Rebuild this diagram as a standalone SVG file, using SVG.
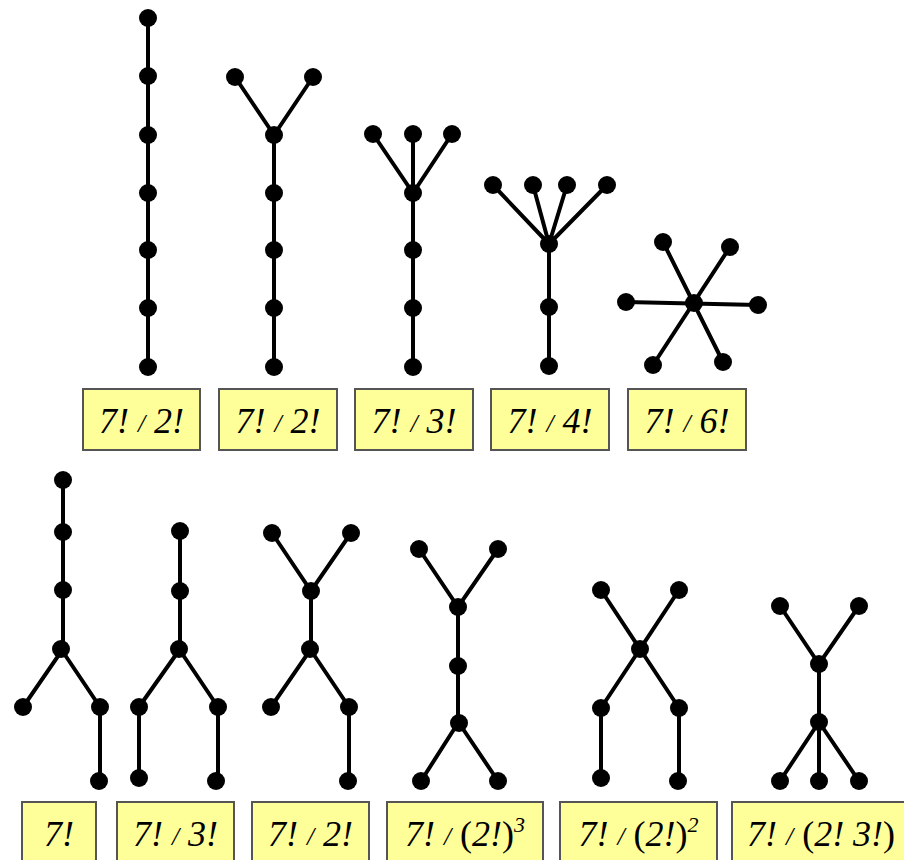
<svg xmlns="http://www.w3.org/2000/svg" width="904" height="860" viewBox="0 0 904 860">
<style>
.e{stroke:#000;stroke-width:4;stroke-linecap:round;fill:none}
.v{fill:#000}
.b{fill:#FFFF99;stroke:#555;stroke-width:2}
.t{font-family:'Liberation Serif','DejaVu Serif',serif;font-style:italic;font-weight:normal;font-size:36px;fill:#000;text-anchor:middle}
.s{font-size:26px}
.u{font-style:normal}
.p{font-size:22px}
</style>
<rect width="904" height="860" fill="#fff"/>
<g id="connectors">
<path class="e" d="M148,18V367"/>
<path class="e" d="M235,77L274,135L313,77M274,135V367"/>
<path class="e" d="M373,134L413,193L452,134M413,134V367"/>
<path class="e" d="M493,185L549,244L533,185M567,185L549,244L607,185M549,244V366"/>
<path class="e" d="M663,242L723,362M730,247L653,365M626,302L758,305"/>
<path class="e" d="M63,480V649L23,707M61,649L100,707V781"/>
<path class="e" d="M180,531V649L139,707V778M179,649L218,707V781"/>
<path class="e" d="M272,533L311,591L351,533M311,591V649L271,707M310,649L349,707V781"/>
<path class="e" d="M419,549L458,607L498,549M458,607V723L421,781M459,723L498,781"/>
<path class="e" d="M601,590L640,649L679,590M640,649L601,708V778M640,649L679,708V781"/>
<path class="e" d="M780,606L819,664L859,606M819,664V781M819,722L780,781M819,722L859,781"/>
</g>
<g id="tree1" class="v">
<circle cx="148" cy="18" r="9"/><circle cx="148" cy="76" r="9"/><circle cx="148" cy="135" r="9"/><circle cx="148" cy="193" r="9"/><circle cx="148" cy="250" r="9"/><circle cx="148" cy="308" r="9"/><circle cx="148" cy="367" r="9"/>
</g>
<g id="tree2" class="v">
<circle cx="235" cy="77" r="9"/><circle cx="313" cy="77" r="9"/><circle cx="274" cy="135" r="9"/><circle cx="274" cy="193" r="9"/><circle cx="274" cy="250" r="9"/><circle cx="274" cy="308" r="9"/><circle cx="274" cy="367" r="9"/>
</g>
<g id="tree3" class="v">
<circle cx="373" cy="134" r="9"/><circle cx="413" cy="134" r="9"/><circle cx="452" cy="134" r="9"/><circle cx="413" cy="193" r="9"/><circle cx="413" cy="250" r="9"/><circle cx="413" cy="308" r="9"/><circle cx="413" cy="367" r="9"/>
</g>
<g id="tree4" class="v">
<circle cx="493" cy="185" r="9"/><circle cx="533" cy="185" r="9"/><circle cx="567" cy="185" r="9"/><circle cx="607" cy="185" r="9"/><circle cx="549" cy="244" r="9"/><circle cx="549" cy="307" r="9"/><circle cx="549" cy="366" r="9"/>
</g>
<g id="tree5" class="v">
<circle cx="694" cy="303" r="9"/><circle cx="663" cy="242" r="9"/><circle cx="730" cy="247" r="9"/><circle cx="626" cy="302" r="9"/><circle cx="758" cy="305" r="9"/><circle cx="653" cy="365" r="9"/><circle cx="723" cy="362" r="9"/>
</g>
<g id="treeA" class="v">
<circle cx="63" cy="480" r="9"/><circle cx="63" cy="532" r="9"/><circle cx="63" cy="590" r="9"/><circle cx="61" cy="649" r="9"/><circle cx="23" cy="707" r="9"/><circle cx="100" cy="707" r="9"/><circle cx="99" cy="781" r="9"/>
</g>
<g id="treeB" class="v">
<circle cx="180" cy="531" r="9"/><circle cx="180" cy="591" r="9"/><circle cx="179" cy="649" r="9"/><circle cx="139" cy="707" r="9"/><circle cx="139" cy="778" r="9"/><circle cx="218" cy="707" r="9"/><circle cx="216" cy="781" r="9"/>
</g>
<g id="treeC" class="v">
<circle cx="272" cy="533" r="9"/><circle cx="351" cy="533" r="9"/><circle cx="311" cy="591" r="9"/><circle cx="310" cy="649" r="9"/><circle cx="271" cy="707" r="9"/><circle cx="349" cy="707" r="9"/><circle cx="348" cy="781" r="9"/>
</g>
<g id="treeD" class="v">
<circle cx="419" cy="549" r="9"/><circle cx="498" cy="549" r="9"/><circle cx="458" cy="607" r="9"/><circle cx="458" cy="666" r="9"/><circle cx="459" cy="723" r="9"/><circle cx="421" cy="781" r="9"/><circle cx="498" cy="781" r="9"/>
</g>
<g id="treeE" class="v">
<circle cx="601" cy="590" r="9"/><circle cx="679" cy="590" r="9"/><circle cx="640" cy="649" r="9"/><circle cx="601" cy="708" r="9"/><circle cx="679" cy="708" r="9"/><circle cx="601" cy="778" r="9"/><circle cx="678" cy="781" r="9"/>
</g>
<g id="treeF" class="v">
<circle cx="780" cy="606" r="9"/><circle cx="859" cy="606" r="9"/><circle cx="819" cy="664" r="9"/><circle cx="819" cy="722" r="9"/><circle cx="780" cy="781" r="9"/><circle cx="819" cy="781" r="9"/><circle cx="859" cy="781" r="9"/>
</g>
<g id="label1"><rect class="b" x="83" y="389" width="117" height="61"/><text class="t" x="141.5" y="433">7! <tspan class="s" dy="-1">/</tspan><tspan dy="1"> 2!</tspan></text></g>
<g id="label2"><rect class="b" x="219" y="389" width="118" height="61"/><text class="t" x="278" y="433">7! <tspan class="s" dy="-1">/</tspan><tspan dy="1"> 2!</tspan></text></g>
<g id="label3"><rect class="b" x="355" y="389" width="118" height="61"/><text class="t" x="414" y="433">7! <tspan class="s" dy="-1">/</tspan><tspan dy="1"> 3!</tspan></text></g>
<g id="label4"><rect class="b" x="491" y="389" width="118" height="61"/><text class="t" x="550" y="433">7! <tspan class="s" dy="-1">/</tspan><tspan dy="1"> 4!</tspan></text></g>
<g id="label5"><rect class="b" x="628" y="389" width="118" height="61"/><text class="t" x="687" y="433">7! <tspan class="s" dy="-1">/</tspan><tspan dy="1"> 6!</tspan></text></g>
<g id="labelA"><rect class="b" x="22" y="802" width="74" height="62"/><text class="t" x="59" y="846">7!</text></g>
<g id="labelB"><rect class="b" x="117" y="802" width="117" height="62"/><text class="t" x="175.5" y="846">7! <tspan class="s" dy="-1">/</tspan><tspan dy="1"> 3!</tspan></text></g>
<g id="labelC"><rect class="b" x="252" y="802" width="117" height="62"/><text class="t" x="310.5" y="846">7! <tspan class="s" dy="-1">/</tspan><tspan dy="1"> 2!</tspan></text></g>
<g id="labelD"><rect class="b" x="387" y="802" width="156" height="62"/><text class="t" x="465" y="846">7! <tspan class="s" dy="-1">/</tspan><tspan dy="1"> </tspan><tspan class="u">(</tspan>2!<tspan class="u">)</tspan><tspan class="p" dy="-14">3</tspan></text></g>
<g id="labelE"><rect class="b" x="560" y="802" width="157" height="62"/><text class="t" x="638.5" y="846">7! <tspan class="s" dy="-1">/</tspan><tspan dy="1"> </tspan><tspan class="u">(</tspan>2!<tspan class="u">)</tspan><tspan class="p" dy="-14">2</tspan></text></g>
<g id="labelF"><rect class="b" x="732" y="802" width="180" height="62"/><text class="t" x="821" y="846">7! <tspan class="s" dy="-1">/</tspan><tspan dy="1"> </tspan><tspan class="u">(</tspan>2! 3!<tspan class="u">)</tspan></text></g>
</svg>
